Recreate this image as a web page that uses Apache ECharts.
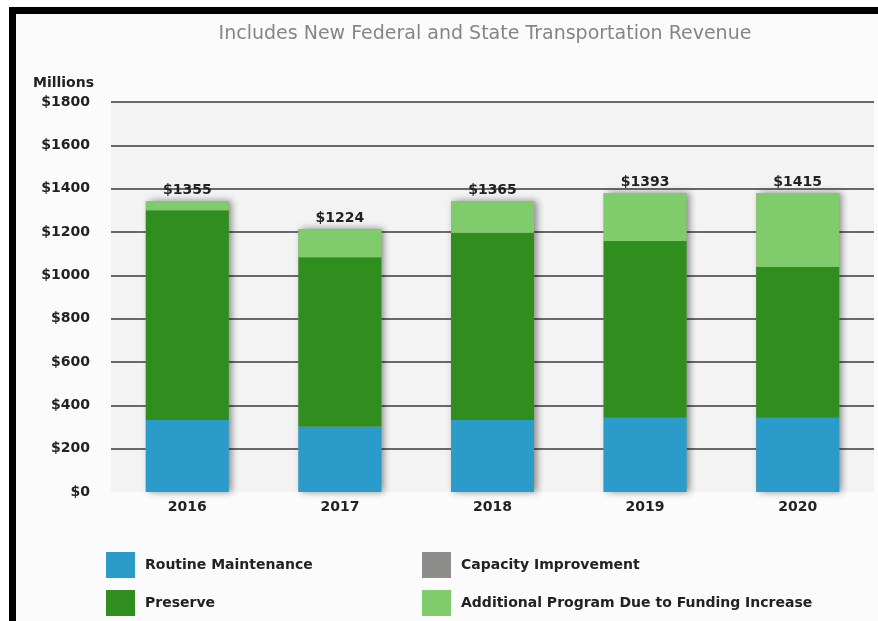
<!DOCTYPE html>
<html>
<head>
<meta charset="utf-8">
<script src="https://cdn.jsdelivr.net/npm/echarts@6/dist/echarts.min.js"></script>
<style>
html,body{margin:0;padding:0;background:#ffffff;}
#chart{width:878px;height:621px;}
</style>
</head>
<body>
<div id="chart"></div>
<script>
var categories = ['2016', '2017', '2018', '2019', '2020'];
var routineMaintenance = [332, 302, 332, 343, 343];
var preserve = [968, 782, 865, 816, 695];
var capacityImprovement = [0, 0, 0, 0, 0];
var additionalProgram = [42, 129, 145, 221, 342];
var totalLabels = ['$1355', '$1224', '$1365', '$1393', '$1415'];
var yTicks = [0, 200, 400, 600, 800, 1000, 1200, 1400, 1600, 1800];

var FONT = 'DejaVu Sans';
var chart = echarts.init(document.getElementById('chart'), null, {renderer: 'canvas'});

var stackTotals = categories.map(function (c, i) {
  return routineMaintenance[i] + preserve[i] + capacityImprovement[i] + additionalProgram[i];
});

function legendItem(name, left, top) {
  return {
    data: [name], left: left, top: top, padding: 0,
    itemWidth: 29, itemHeight: 26, icon: 'rect',
    textStyle: {fontFamily: FONT, fontSize: 14, fontWeight: 'bold', color: '#222', padding: [0, 0, 0, 5]}
  };
}

var option = {
  backgroundColor: '#fbfbfb',
  animation: false,
  title: {
    text: 'Includes New Federal and State Transportation Revenue',
    left: 480, top: 20, textAlign: 'center',
    textStyle: {fontFamily: FONT, fontSize: 19, fontWeight: 'normal', color: '#858585'}
  },
  graphic: [
    {type: 'rect', shape: {x: 0, y: 0, width: 878, height: 7}, style: {fill: '#ffffff'}, z: 99},
    {type: 'rect', shape: {x: 0, y: 0, width: 9, height: 621}, style: {fill: '#ffffff'}, z: 99},
    {type: 'rect', shape: {x: 9, y: 7, width: 869, height: 7}, style: {fill: '#000'}, z: 100},
    {type: 'rect', shape: {x: 9, y: 7, width: 7, height: 614}, style: {fill: '#000'}, z: 100}
  ],
  legend: [
    legendItem('Routine Maintenance', 106, 552),
    legendItem('Preserve', 106, 590),
    legendItem('Capacity Improvement', 422, 552),
    legendItem('Additional Program Due to Funding Increase', 422, 590)
  ],
  grid: {left: 111, right: 4, top: 102, bottom: 129, containLabel: false, show: true, backgroundColor: '#f3f3f3', borderWidth: 0},
  xAxis: {
    type: 'category',
    data: categories,
    axisLine: {show: false},
    axisTick: {show: false},
    axisLabel: {fontFamily: FONT, fontSize: 14, fontWeight: 'bold', color: '#222', margin: 8}
  },
  yAxis: {
    type: 'value',
    min: yTicks[0], max: yTicks[yTicks.length - 1], interval: 200,
    name: 'Millions',
    nameLocation: 'end',
    nameGap: 12,
    nameTextStyle: {fontFamily: FONT, fontSize: 14, fontWeight: 'bold', color: '#222', align: 'right', padding: [0, 17, 0, 0]},
    axisLine: {show: false},
    axisTick: {show: false},
    axisLabel: {
      fontFamily: FONT, fontSize: 14, fontWeight: 'bold', color: '#222', margin: 21,
      formatter: function (v) { return '$' + v; }
    },
    splitLine: {
      show: true,
      lineStyle: {color: ['rgba(0,0,0,0)', '#3a3a3a', '#3a3a3a', '#3a3a3a', '#3a3a3a', '#3a3a3a', '#3a3a3a', '#3a3a3a', '#3a3a3a', '#3a3a3a'], width: 1.5}
    }
  },
  series: [
    {
      name: 'shadow', type: 'bar', barWidth: 83, barGap: '-100%', z: 1,
      data: stackTotals, silent: true, legendHoverLink: false,
      itemStyle: {color: '#9a9a9a', shadowBlur: 7, shadowColor: 'rgba(0,0,0,0.45)', shadowOffsetX: 3, shadowOffsetY: 0}
    },
    {
      name: 'Routine Maintenance', type: 'bar', stack: 'total', barWidth: 83, barGap: '-100%', z: 2,
      data: routineMaintenance,
      itemStyle: {color: '#2b9bc9'}
    },
    {
      name: 'Preserve', type: 'bar', stack: 'total', barWidth: 83, barGap: '-100%', z: 2,
      data: preserve,
      itemStyle: {color: '#2f8e1d'}
    },
    {
      name: 'Capacity Improvement', type: 'bar', stack: 'total', barWidth: 83, barGap: '-100%', z: 2,
      data: capacityImprovement,
      itemStyle: {color: '#8d8e8b'}
    },
    {
      name: 'Additional Program Due to Funding Increase', type: 'bar', stack: 'total', barWidth: 83, barGap: '-100%', z: 2,
      data: additionalProgram,
      itemStyle: {color: '#80cc6c'},
      label: {
        show: true, position: 'top', distance: 4,
        fontFamily: FONT, fontSize: 14, fontWeight: 'bold', color: '#222',
        formatter: function (p) { return totalLabels[p.dataIndex]; }
      }
    }
  ]
};
chart.setOption(option);
</script>
</body>
</html>
